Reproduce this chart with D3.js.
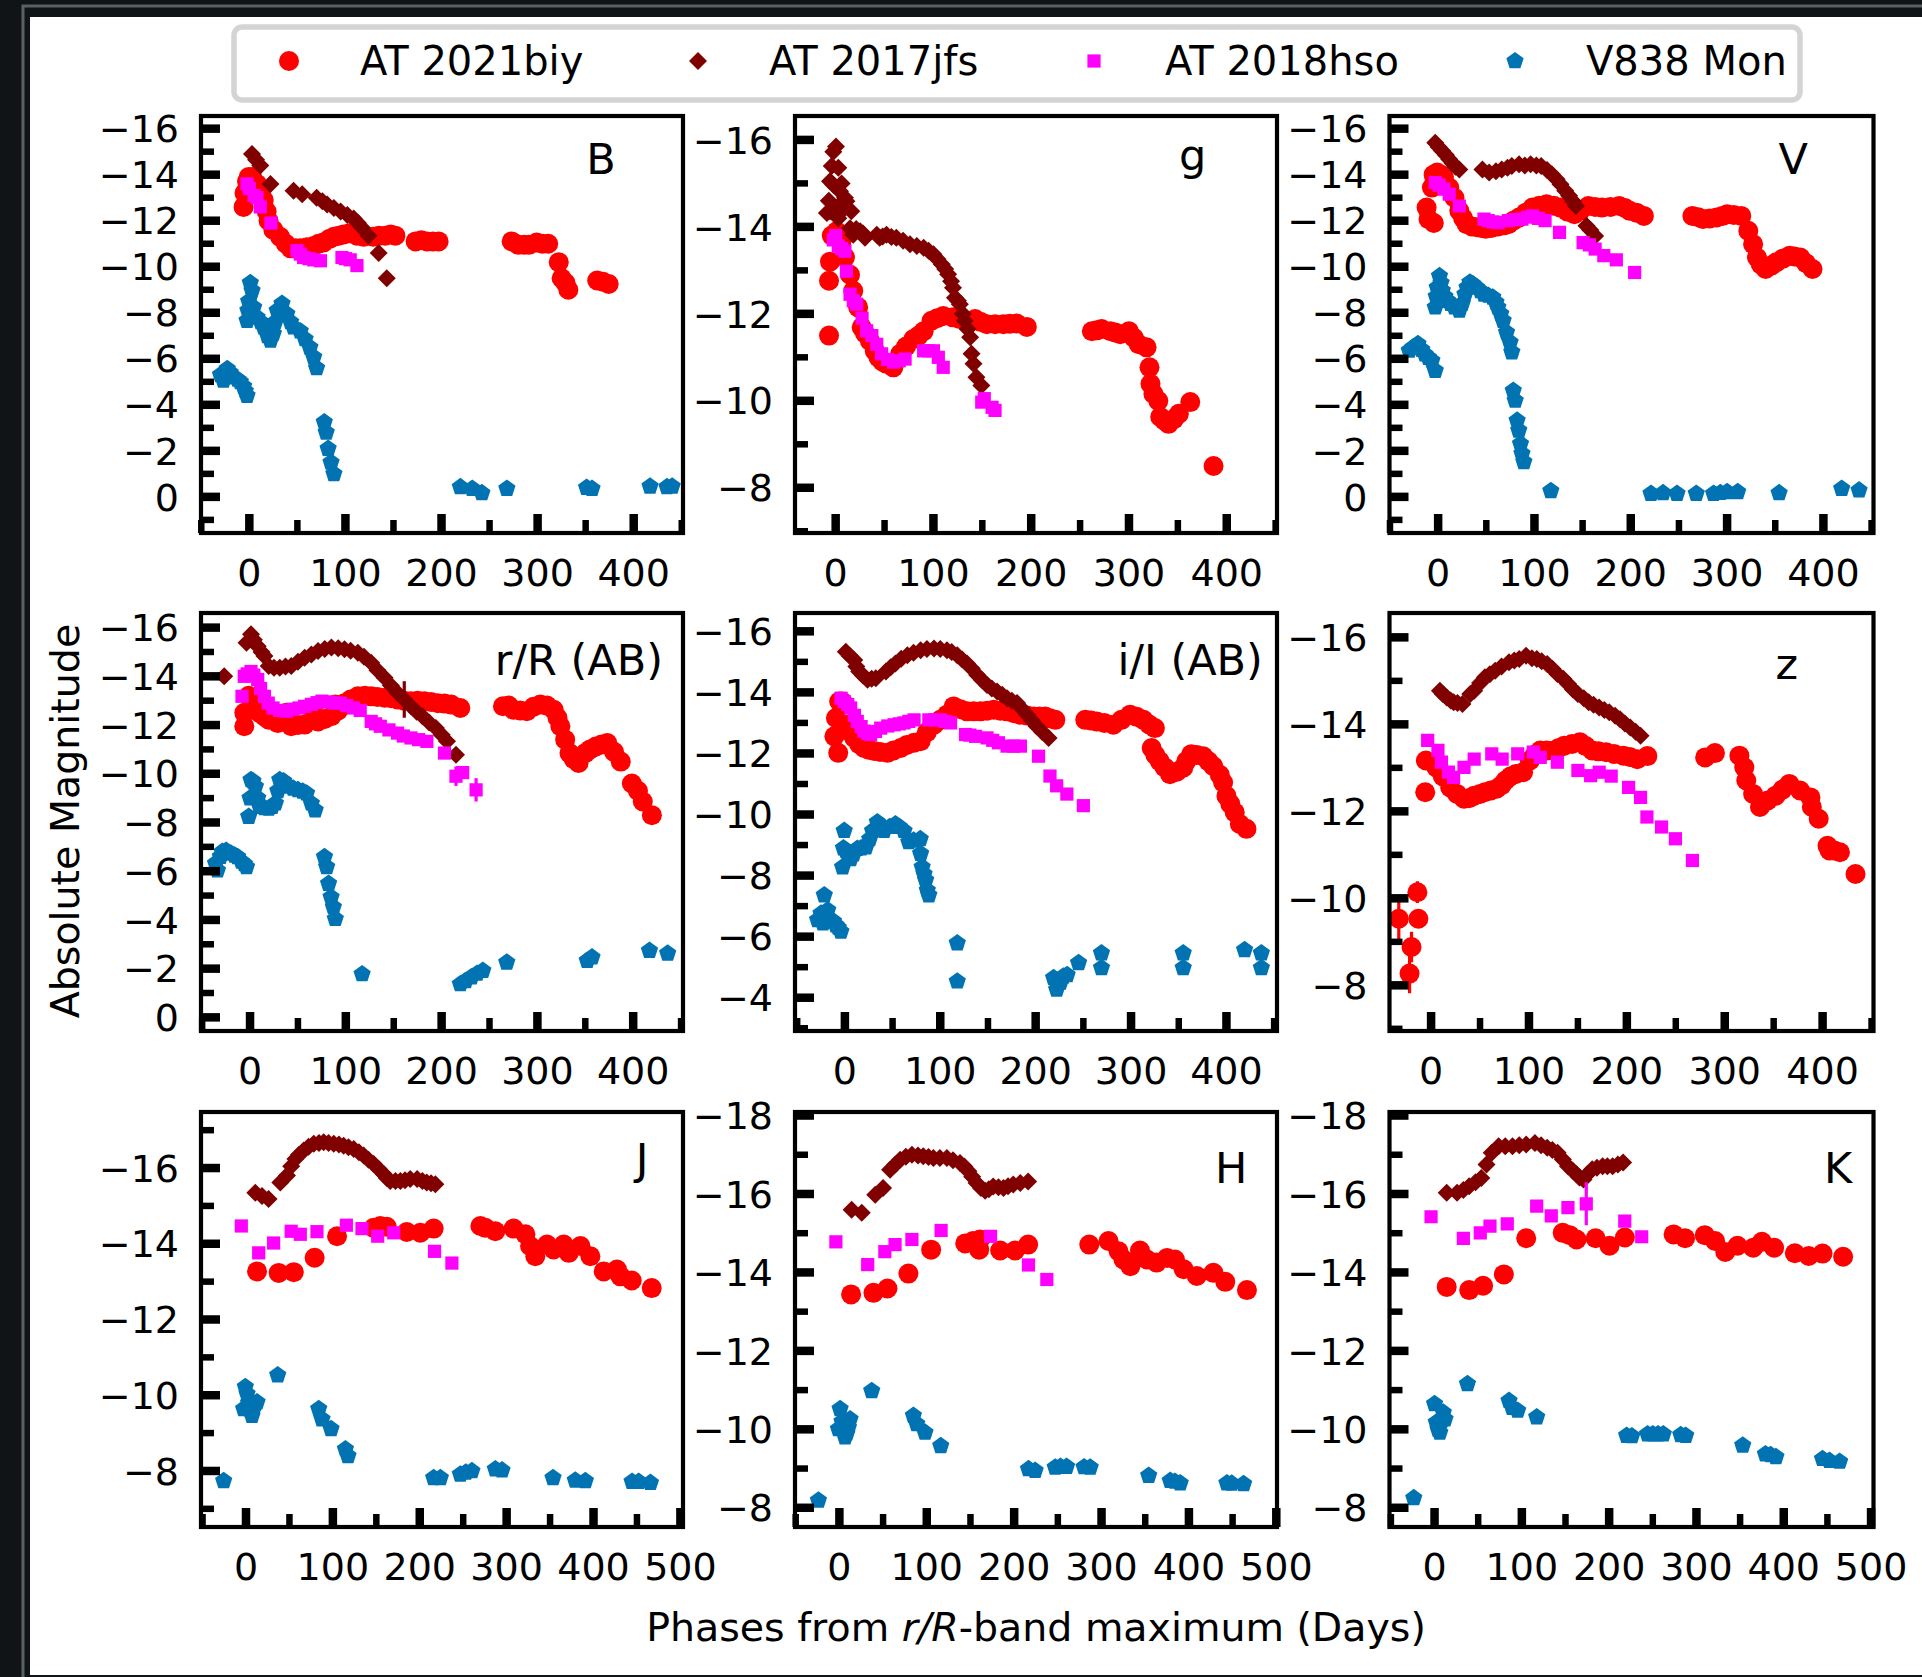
<!DOCTYPE html>
<html>
<head>
<meta charset="utf-8">
<script src="https://cdn.jsdelivr.net/npm/d3@7"></script>
<style>
  html, body { margin: 0; padding: 0; background: #111417; }
  svg { display: block; }
  text { font-family: "DejaVu Sans", "Liberation Sans", sans-serif; fill: #000; }
</style>
</head>
<body>
<svg id="fig" width="1922" height="1677"></svg>
<script>
// ---------------- names ----------------
const objects = ["AT 2021biy", "AT 2017jfs", "AT 2018hso", "V838 Mon"];
const objectColors = ["#ff0000", "#800000", "#ff00ff", "#0173b2"];
const objectShapes = ["circle", "diamond", "square", "pentagon"];
const bands = ["B", "g", "V", "r/R (AB)", "i/I (AB)", "z", "J", "H", "K"];

// ---------------- tick labels ----------------
const xTicksOptical = [0, 100, 200, 300, 400];
const xTicksNIR = [0, 100, 200, 300, 400, 500];
const yTicksB = [-16, -14, -12, -10, -8, -6, -4, -2, 0];
const yTicksG = [-16, -14, -12, -10, -8];
const yTicksV = [-16, -14, -12, -10, -8, -6, -4, -2, 0];
const yTicksR = [-16, -14, -12, -10, -8, -6, -4, -2, 0];
const yTicksI = [-16, -14, -12, -10, -8, -6, -4];
const yTicksZ = [-16, -14, -12, -10, -8];
const yTicksJ = [-16, -14, -12, -10, -8];
const yTicksH = [-18, -16, -14, -12, -10, -8];
const yTicksK = [-18, -16, -14, -12, -10, -8];

// ---------------- light curves: [phase (d), abs mag, (error)] ----------------
// B band
const B_biy = [[-6,-12.6],[-5,-13.2],[-2.4,-13.7],[-0.7,-13.9],[3,-13.9],[8,-13.6],[12,-13.3],[15,-12.9],[18,-12.4],[20,-12.0],[25,-11.6],[32,-11.3],[38,-11.0],[43,-10.8],[48,-10.8],[53,-10.8],[60,-10.85],[67,-10.9],[72,-11.0],[77,-11.05],[83,-11.2],[88,-11.3],[93,-11.35],[98,-11.4],[104,-11.45],[112,-11.35],[119,-11.3],[129,-11.3],[135,-11.35],[141.5,-11.35],[147,-11.4],[152,-11.35],[173,-11.1],[179,-11.15],[185,-11.1],[191,-11.1],[197,-11.1],[273,-11.1],[280,-10.95],[286,-10.95],[291,-10.95],[299,-11.05],[305,-11.0],[311,-11.0],[322,-10.2],[325,-9.5],[329,-9.3],[332,-9.0],[362,-9.4],[368,-9.35],[374,-9.25]];
const B_jfs = [[2.8,-14.9],[7,-14.65],[11.4,-14.4],[22,-13.6],[46,-13.3],[55,-13.15],[70,-13.0],[76,-12.85],[81,-12.7],[88,-12.55],[95,-12.4],[102,-12.25],[108.6,-12.1],[113,-11.9],[117,-11.7],[124,-11.35],[134.6,-10.6],[143,-9.5]];
const B_hso = [[-2.4,-13.6],[0,-13.4],[5,-13.1],[8,-13.0],[11.4,-12.6],[22.5,-11.9],[49.6,-10.7],[53,-10.55],[56.5,-10.4],[62,-10.35],[67,-10.3],[74,-10.26],[96.4,-10.4],[100,-10.35],[105,-10.3],[112,-10.05]];
const B_v838 = [[-30,-5.3],[-27,-5.06],[-23,-5.56],[-20,-5.4],[-16,-5.2],[-12,-5.1],[-9.4,-5.0],[-6,-4.8],[-4.2,-4.6],[-2.4,-4.4],[-2.4,-7.66],[-1.5,-8.1],[-0.7,-8.5],[1,-9.3],[2.8,-8.96],[4.5,-8.24],[8,-7.8],[12,-7.6],[15,-7.37],[19,-7.0],[22,-6.8],[25,-7.1],[27,-7.6],[29,-8.1],[34,-8.4],[39,-7.95],[43,-7.6],[46,-7.37],[53,-7.2],[58,-6.86],[63,-6.5],[67,-6.07],[70,-5.6],[78,-3.25],[80,-2.8],[82,-2.1],[85,-1.5],[88,-1.0],[219.6,-0.43],[232,-0.36],[242,-0.17],[268,-0.36],[351,-0.4],[356.6,-0.36],[417,-0.46],[434.6,-0.43],[440,-0.46]];

// g band
const g_biy = [[-6.8,-11.5],[-6.8,-12.76],[-5.8,-13.2],[-4,-13.8],[1,-13.9],[6,-13.67],[9.5,-13.3],[14.7,-12.9],[18,-12.53],[23,-12.15],[26.6,-11.69],[30,-11.55],[35,-11.38],[40,-11.15],[43.7,-11.0],[48,-10.9],[52,-10.85],[59,-10.77],[66,-11.08],[72,-11.25],[79.5,-11.42],[85,-11.5],[90,-11.6],[98,-11.84],[104,-11.9],[110,-11.95],[120,-11.92],[127,-11.88],[134,-11.84],[142.6,-11.88],[148,-11.82],[154.6,-11.76],[163,-11.76],[171.6,-11.76],[178,-11.77],[185,-11.78],[195.5,-11.7],[262,-11.6],[267,-11.62],[272,-11.65],[281,-11.6],[286,-11.57],[291,-11.53],[300,-11.6],[305,-11.45],[310,-11.3],[318,-11.23],[321,-10.77],[322,-10.39],[325,-10.16],[330,-10.0],[332,-9.63],[336,-9.55],[340.5,-9.47],[346,-9.58],[351,-9.7],[362.7,-9.97],[386.5,-8.5]];
const g_jfs = [[-9,-14.32],[-7,-14.6],[-5.8,-15.05],[-4,-15.4],[-2.4,-15.73],[0.3,-15.85],[2.7,-15.36],[4.4,-14.82],[6,-14.36],[-5.8,-14.36],[-2.4,-14.97],[-0.7,-14.44],[2.7,-14.2],[6,-15.0],[7.8,-14.59],[9.5,-14.67],[11,-14.59],[14.7,-13.97],[16,-14.36],[18,-13.82],[21,-13.95],[25,-13.9],[28,-13.85],[30,-13.75],[42,-13.82],[45,-13.75],[48,-13.78],[52,-13.82],[57,-13.77],[62,-13.75],[69,-13.68],[76,-13.6],[83,-13.56],[90,-13.52],[95,-13.45],[100,-13.37],[104,-13.26],[108.5,-13.14],[112,-13.03],[115,-12.91],[118,-12.75],[120,-12.6],[122,-12.37],[125,-12.3],[127,-12.22],[130,-12.0],[132,-11.84],[135,-11.65],[137.5,-11.46],[139,-11.08],[141,-10.85],[144,-10.54],[149,-10.35]];
const g_hso = [[-2.4,-13.7],[0,-13.8],[2.7,-13.56],[6,-13.5],[9.5,-13.44],[11,-12.98],[14.7,-12.45],[18,-12.3],[21.5,-12.22],[27,-11.9],[31.7,-11.61],[37,-11.5],[42,-11.3],[47,-11.08],[53,-10.95],[59,-10.89],[65,-10.92],[71,-10.96],[90,-11.15],[95,-11.15],[100,-11.15],[105,-11.0],[110,-10.77],[149.4,-9.97],[152,-10.05],[160,-9.85],[163,-9.78]];

// V band
const V_biy = [[-12,-12.57],[-10,-12.07],[-6.5,-13.44],[-4.5,-11.9,0.35],[-4.7,-14.0],[-1,-14.09],[3,-14.0],[6,-13.87],[11.5,-13.44],[17,-13.0],[22,-12.43],[26,-12.1],[29.6,-11.85],[35,-11.75],[40,-11.72],[45,-11.68],[49.4,-11.65],[55,-11.68],[62,-11.75],[68,-11.8],[73,-11.85],[78,-12.0],[84,-12.14],[91,-12.35],[98,-12.57],[105,-12.65],[112.6,-12.72],[120,-12.65],[127,-12.57],[134,-12.4],[141.5,-12.28],[148,-12.45],[156,-12.64],[163,-12.6],[170,-12.57],[179,-12.6],[188,-12.64],[194,-12.55],[199,-12.43],[206,-12.35],[213.6,-12.21],[264,-12.21],[270,-12.15],[275,-12.07],[282,-12.1],[289,-12.14],[295,-12.2],[300,-12.28],[307,-12.25],[314.7,-12.21],[322,-11.56],[327,-10.98],[331,-10.4],[335,-10.1],[340,-9.9],[346,-10.05],[351,-10.19],[358,-10.35],[365,-10.48],[370,-10.45],[376,-10.4],[382,-10.15],[388.7,-9.9]];
const V_jfs = [[-3,-15.39],[0.5,-15.2],[4.3,-15.03],[8,-14.85],[11.5,-14.67],[15,-14.5],[18,-14.35],[22,-14.23],[46,-14.23],[53,-14.09],[60,-14.15],[66,-14.23],[72,-14.3],[76.5,-14.38],[84,-14.45],[90,-14.4],[96,-14.45],[102,-14.4],[107,-14.38],[113,-14.2],[118,-14.02],[123,-13.8],[127,-13.58],[132,-13.3],[136,-13.08],[140,-12.85],[143,-12.64],[154,-11.78],[158,-11.6],[163,-11.34]];
const V_hso = [[-3,-13.66],[1,-13.55],[6,-13.37],[11.5,-13.15],[22,-12.64],[47.6,-12.07],[52,-12.0],[57,-11.95],[62,-11.92],[73,-12.0],[80,-12.05],[87,-12.07],[93,-12.15],[98,-12.21],[104,-12.1],[111,-12.0],[126,-11.49],[150.5,-11.05],[157,-10.95],[163,-10.77],[172,-10.48],[185,-10.3],[204,-9.75]];
const V_v838 = [[-30,-6.36],[-26,-6.5],[-21,-6.65],[-17,-6.4],[-13.7,-6.2],[-10,-6.05],[-6.5,-5.92],[-3,-5.49],[-3,-8.24],[-2,-8.7],[-1,-9.1],[1.4,-9.6],[3,-9.3],[4.3,-8.96],[7,-8.7],[9.7,-8.53],[13,-8.4],[17,-8.24],[22,-8.1],[25,-8.4],[27.8,-8.8],[30,-9.1],[33,-9.32],[36,-9.25],[40,-9.1],[44,-8.95],[47.6,-8.8],[52,-8.75],[56.7,-8.67],[60,-8.45],[62,-8.24],[65,-7.95],[67.5,-7.66],[71,-7.15],[74.7,-6.72],[76.5,-6.29],[78,-4.62],[80,-4.19],[82,-3.32],[83.7,-2.89],[85.5,-2.31],[87,-1.88],[89,-1.52],[117,-0.26],[221,-0.14],[233.5,-0.17],[248,-0.14],[268,-0.14],[286,-0.14],[293,-0.18],[300,-0.22],[311,-0.22],[354,-0.17],[419,-0.36],[437,-0.29]];

// r/R band
const R_biy = [[-6,-11.95],[-6,-12.5],[-1.4,-13.2],[3.3,-12.77],[10,-12.5],[15,-12.35],[19.5,-12.22],[19.5,-12.6],[29,-12.08],[38,-12.5],[43,-11.95],[50,-12.0],[57,-12.02],[66,-12.5],[71,-12.15],[78,-12.25],[85,-12.36],[89,-12.84],[92,-12.6],[98.6,-12.9],[105,-13.05],[112.6,-13.18],[120,-13.2],[126.5,-13.18],[133,-13.15],[140.5,-13.12],[147,-13.1],[154,-13.05],[161,-13.0],[168,-12.98],[175,-13.0],[182,-12.98],[189,-12.95],[196,-12.9],[203,-12.88],[210,-12.84],[219.5,-12.7],[264,-12.77],[270,-12.8],[275,-12.63],[282,-12.6],[289,-12.57],[296,-12.75],[303,-12.84],[310,-12.8],[317,-12.63],[321,-12.3],[324,-11.95],[329,-11.4],[333.5,-10.85],[338,-10.6],[343,-10.44],[350,-10.85],[355,-11.0],[361,-11.12],[367,-11.2],[373,-11.26],[380,-10.9],[387,-10.5],[398.6,-9.6],[405,-9.3],[410,-8.86],[419.5,-8.3]];
const R_jfs = [[-27,-14.0],[-3.7,-15.38],[1,-15.73],[4,-15.5],[8,-15.24],[12,-15.0],[15,-14.83],[19.5,-14.42],[25,-14.35],[31,-14.35],[37,-14.4],[43,-14.42],[50,-14.6],[57,-14.76],[64,-14.9],[71,-15.04],[78,-15.12],[85,-15.18],[92,-15.15],[98.6,-15.11],[105,-15.05],[112.6,-14.97],[119,-14.8],[126.5,-14.56],[133,-14.25],[140.5,-13.94],[147,-13.62],[154,-13.32],[161,-13.05,0.75],[168,-12.77],[174,-12.55],[180,-12.36],[187,-12.1],[194,-11.88],[200,-11.6],[205.6,-11.33],[215,-10.78]];
const R_hso = [[-8.4,-13.18],[-6,-14.0],[-3,-14.1],[1,-14.2],[4,-14.05],[8,-13.87],[11,-13.5],[15,-13.18],[19,-12.9],[24,-12.7],[31,-12.6],[38,-12.57],[45,-12.65],[51,-12.7],[57,-12.77],[64,-12.85],[70,-12.92],[75,-12.98],[82,-12.95],[88,-12.9],[94,-12.9],[101,-12.8],[108,-12.7],[115,-12.6],[126.5,-12.15],[131,-12.05],[136,-11.95],[145,-11.8],[154,-11.67],[160,-11.55],[168,-11.47],[176,-11.4],[184.6,-11.33],[203,-10.85],[215,-9.9,0.4],[222,-10.05],[236,-9.34,0.48]];
const R_v838 = [[-36,-6.32],[-34,-6.04],[-31,-6.6],[-29,-6.8],[-25,-6.85],[-20,-6.73],[-16,-6.65],[-13,-6.59],[-9,-6.4],[-6,-6.3],[-3.7,-6.18],[-1.4,-8.24],[0,-9.0],[1,-9.75],[3,-9.7],[5.6,-9.48],[8,-9.0],[10,-8.65],[15,-8.6],[19.5,-8.58],[23,-8.65],[26.5,-8.79],[29,-9.3],[31,-9.75],[35,-9.7],[40.5,-9.48],[45,-9.4],[50,-9.34],[55,-9.28],[59,-9.2],[64,-8.79],[68,-8.51],[77.7,-6.59],[80,-6.18],[82,-5.49],[84.6,-4.94],[87,-4.53],[89,-4.05],[117,-1.78],[219.5,-1.37],[225,-1.5],[231,-1.65],[237,-1.8],[243,-1.92],[268,-2.26],[352,-2.33],[357,-2.47],[417,-2.74],[436,-2.63]];

// i/I band
const I_biy = [[-11,-12.56],[-9.4,-13.16],[-7,-12.02],[-6,-13.7],[-3,-13.7],[-0.7,-13.6],[2.8,-12.94],[6,-12.7],[9.8,-12.51],[15,-12.3],[20,-12.18],[25,-12.12],[30.7,-12.08],[37,-12.05],[44.6,-12.02],[51,-12.1],[58.5,-12.18],[65,-12.28],[72.5,-12.35],[79.4,-12.4],[86,-12.7],[93.4,-12.94],[100,-13.1],[107,-13.27],[114,-13.54],[121,-13.45],[128,-13.38],[135,-13.38],[142,-13.38],[149,-13.4],[156,-13.43],[163,-13.4],[170,-13.38],[177,-13.32],[184,-13.27],[191,-13.24],[198,-13.21],[204,-13.21],[210,-13.21],[215,-13.15],[220.6,-13.1],[252,-13.1],[258,-13.08],[264,-13.05],[272,-13.0],[281.5,-12.94],[290,-13.1],[299,-13.27],[306,-13.2],[313,-13.1],[319,-12.95],[325,-12.83],[321.6,-12.18],[325.5,-11.95],[330,-11.75],[335,-11.55],[340.8,-11.32],[348,-11.4],[354.7,-11.53],[358,-11.75],[363,-11.97],[369,-11.95],[375.6,-11.91],[381,-11.75],[386,-11.59],[393,-11.3],[396.5,-11.05],[400,-10.61],[404,-10.35],[408.7,-10.07],[414,-9.69],[421,-9.53]];
const I_jfs = [[1,-15.33],[5,-15.2],[9.8,-15.06],[12,-14.85],[15,-14.68],[19,-14.55],[23.7,-14.41],[28,-14.45],[32.4,-14.46],[43,-14.68],[48,-14.82],[53,-14.95],[59,-15.1],[65.5,-15.22],[72,-15.3],[79.4,-15.38],[86,-15.42],[93.4,-15.44],[100,-15.42],[107,-15.38],[112,-15.32],[117.8,-15.22],[123,-15.08],[128,-14.95],[133,-14.78],[138.7,-14.57],[144,-14.4],[149,-14.24],[154,-14.13],[159.6,-14.03],[165,-13.92],[170,-13.81],[175,-13.73],[180.5,-13.65],[186,-13.45],[191,-13.27],[196,-13.08],[201,-12.89],[207,-12.7],[213.6,-12.51]];
const I_hso = [[-4,-13.81],[-0.7,-13.7],[3,-13.6],[6,-13.49],[10,-13.25],[13,-13.05],[17,-12.88],[20,-12.73],[24,-12.65],[27,-12.62],[32,-12.72],[37.6,-12.83],[45,-12.9],[51.6,-12.94],[57,-12.97],[62,-13.0],[67,-13.05],[72.5,-13.1],[88,-13.1],[94,-13.1],[100,-13.1],[105,-13.05],[110.8,-13.0],[126.5,-12.62],[131,-12.6],[137,-12.56],[149,-12.51],[155,-12.43],[161,-12.35],[170,-12.24],[177,-12.24],[184,-12.24],[203,-11.91],[215,-11.26],[222,-10.94],[232.7,-10.67],[250,-10.29]];
const I_v838 = [[-28.6,-6.55],[-25,-6.76],[-23,-6.44],[-21.6,-7.36],[-18,-6.87],[-14.6,-6.55],[-12,-6.5],[-9.4,-6.38],[-7,-6.3],[-4.2,-6.17],[-2.4,-8.28],[-1.5,-8.9],[-0.7,-9.47],[1,-8.82],[3,-8.7],[6,-8.55],[9,-8.7],[13,-8.88],[17,-8.9],[22,-8.93],[26,-9.2],[29,-9.47],[34,-9.75],[37,-9.65],[41,-9.47],[47,-9.6],[53,-9.69],[57,-9.6],[62,-9.47],[67,-9.1],[72,-9.15],[79,-9.2],[79.4,-8.72],[81,-8.28],[83,-8.05],[84.7,-7.85],[86.4,-7.52],[88,-7.36],[117.8,-5.79],[117.8,-4.54],[218.8,-4.65],[222,-4.27],[226,-4.5],[229,-4.7],[233,-4.75],[245,-5.14],[269,-5.46],[269,-4.98],[354.7,-5.46],[354.7,-4.98],[419,-5.57],[436.6,-5.46],[436.6,-4.98]];

// z band
const Z_biy = [[-33,-9.53,0.55],[-22,-8.27,0.45],[-20,-8.88,0.35],[-14,-10.14,0.25],[-13,-9.53],[-6,-12.44],[-5.3,-13.17],[5.3,-13.01],[12,-12.8],[19.5,-12.55],[26.5,-12.4],[33.6,-12.29],[39,-12.3],[44,-12.36],[50,-12.4],[55,-12.44],[61,-12.48],[67,-12.52],[72,-12.6],[76,-12.71],[81,-12.8],[86.7,-12.86],[94,-12.9],[101,-13.17],[106,-13.3],[111.5,-13.4],[118,-13.4],[125.7,-13.4],[130,-13.45],[136,-13.51],[144,-13.55],[152,-13.59],[158,-13.5],[164.6,-13.4],[171,-13.38],[178.8,-13.36],[187,-13.32],[196.5,-13.28],[203,-13.25],[210.6,-13.2],[221,-13.27],[280,-13.24],[290,-13.34],[315,-13.28],[320,-13.01],[322,-12.71],[329,-12.4],[336,-12.1],[344,-12.25],[352,-12.36],[359,-12.5],[366,-12.63],[377,-12.48],[387.6,-12.32],[389,-12.1],[396,-11.83],[405,-11.21],[407,-11.1],[412,-11.1],[417.7,-11.06],[433.6,-10.56]];
const Z_jfs = [[9,-14.77],[12,-14.7],[16,-14.62],[20,-14.55],[23,-14.51],[27,-14.49],[32,-14.47],[40,-14.7],[44,-14.77],[50,-14.95],[55,-15.08],[60,-15.15],[65.5,-15.23],[72,-15.33],[79.6,-15.43],[85,-15.47],[90,-15.5],[97,-15.58],[103,-15.52],[108,-15.5],[113,-15.45],[118.6,-15.39],[124,-15.28],[129,-15.16],[135,-15.05],[140,-14.93],[145,-14.8],[150,-14.7],[156,-14.6],[161,-14.51],[166,-14.45],[171.7,-14.39],[177,-14.33],[182,-14.28],[188,-14.2],[193,-14.12],[198,-14.02],[203.5,-13.93],[209,-13.83],[214,-13.74]];
const Z_hso = [[-3.5,-13.63],[7,-13.4],[10.6,-13.13],[17.7,-12.9],[23,-12.78],[33.6,-13.01],[44,-13.2],[62,-13.32],[72.6,-13.2],[88.5,-13.32],[104.4,-13.36],[111.5,-13.24],[129,-13.13],[150,-12.94],[163,-12.82],[171.7,-12.9],[184,-12.81],[201.8,-12.55],[214,-12.32],[220.5,-11.87],[235.4,-11.64],[249.6,-11.37],[267,-10.87]];

// J band
const J_biy = [[12.7,-13.27],[37.6,-13.23],[55,-13.25],[79,-13.63],[104.8,-14.2],[147,-14.42],[154.6,-14.47],[162,-14.45],[185,-14.31],[200.7,-14.29],[216,-14.4],[269.8,-14.47],[275.5,-14.42],[287,-14.33],[308,-14.4],[321.6,-14.25],[327,-13.94],[333,-13.67],[346.5,-13.98],[354,-13.85],[365.7,-13.98],[371.5,-13.76],[385,-13.94],[396.4,-13.67],[411.7,-13.27],[427,-13.32],[431,-13.14],[444,-13.03],[467,-12.83]];
const J_jfs = [[10.7,-15.35],[18.4,-15.26],[26,-15.18],[39.5,-15.62],[47.2,-15.8],[52,-16.05],[56.8,-16.24],[61,-16.35],[66.4,-16.46],[72,-16.56],[78,-16.64],[84,-16.66],[89.4,-16.68],[95,-16.66],[101,-16.64],[107,-16.62],[112.4,-16.59],[118,-16.55],[124,-16.5],[130,-16.42],[135.5,-16.33],[141,-16.22],[147,-16.11],[153,-15.97],[158.5,-15.84],[162,-15.74],[166,-15.66],[172,-15.66],[177.7,-15.66],[183,-15.68],[189,-15.71],[197,-15.71],[203,-15.66],[208,-15.62],[213,-15.6],[218,-15.57]];
const J_hso = [[-5.4,-14.47],[14.6,-13.76],[31.8,-14.02],[52,-14.33],[62.5,-14.25],[81.7,-14.32],[115.5,-14.49],[133.5,-14.4],[151.6,-14.2],[170,-14.29],[217,-13.8],[237,-13.49]];
const J_v838 = [[-25.7,-7.74],[-2.7,-9.64],[-0.8,-10.22],[1.2,-10.04],[3,-9.8],[5,-9.6],[6.9,-9.46],[8.5,-9.65],[10.7,-9.77],[12.7,-9.82],[36.5,-10.53],[83.7,-9.64],[87.5,-9.37],[97.9,-9.11],[114.4,-8.58],[117.4,-8.4],[216,-7.82],[223.7,-7.82],[246.7,-7.91],[253,-7.96],[260,-8.0],[287,-8.05],[294.7,-8.02],[353.4,-7.82],[379,-7.75],[390.6,-7.74],[444.4,-7.72],[452,-7.72],[465.5,-7.69]];

// H band
const H_biy = [[13.4,-13.44],[39,-13.48],[55,-13.59],[79,-13.97],[105,-14.58],[144,-14.74],[153,-14.8],[160,-14.58],[161,-14.84],[184,-14.56],[201,-14.56],[216,-14.71],[286,-14.71],[308,-14.8],[319.5,-14.54],[325,-14.33],[333,-14.16],[344,-14.56],[352,-14.33],[363,-14.25],[375,-14.37],[384,-14.33],[394,-14.08],[409,-13.91],[428,-13.99],[441.6,-13.76],[466.4,-13.55]];
const H_jfs = [[14,-15.6],[25.6,-15.52],[41,-15.98],[50,-16.15],[58,-16.62],[64,-16.75],[69.5,-16.87],[76,-16.95],[83,-17.0],[90,-16.98],[96,-16.96],[102,-16.94],[107.6,-16.92],[115,-16.92],[123,-16.92],[130,-16.86],[138,-16.79],[143,-16.7],[147.7,-16.58],[152,-16.44],[157,-16.28],[162,-16.15],[166.8,-16.08],[171,-16.12],[176,-16.19],[182,-16.17],[187.8,-16.15],[193,-16.2],[199,-16.24],[207,-16.28],[216,-16.32]];
const H_hso = [[-4,-14.78],[32.4,-14.2],[52,-14.53],[63.7,-14.71],[83,-14.84],[116.4,-15.07],[173,-14.92],[216.4,-14.19],[237.4,-13.82]];
const H_v838 = [[-24,-8.19],[-1.1,-10.01],[0.8,-10.52],[3,-10.2],[6.5,-9.8],[8.5,-9.9],[10.3,-10.05],[12.2,-10.26],[37,-10.98],[84.7,-10.35],[88.5,-10.14],[98,-9.92],[116,-9.58],[216.4,-8.99],[224,-8.95],[247,-9.03],[253,-9.05],[260,-9.05],[280,-9.04],[287,-9.03],[354,-8.82],[378.6,-8.69],[384,-8.67],[390,-8.63],[443.5,-8.63],[449,-8.62],[462.6,-8.61]];

// K band
const K_biy = [[13.9,-13.63],[39.7,-13.55],[55.6,-13.66],[79.4,-13.95],[105,-14.87],[146.8,-15.01],[154.8,-14.95],[162.7,-14.84],[184.5,-14.87],[200.4,-14.68],[218,-14.89],[273.8,-14.97],[287,-14.87],[309.5,-14.95],[321.4,-14.8],[333,-14.52],[347,-14.68],[365,-14.63],[375,-14.78],[389,-14.63],[412.7,-14.49],[428.6,-14.42],[444.4,-14.48],[468,-14.4]];
const K_jfs = [[13.9,-16.03],[25.8,-16.03],[33,-16.1],[39.7,-16.2],[47,-16.3],[53.6,-16.41],[59.5,-16.75],[65.5,-17.05],[73.4,-17.22],[81,-17.22],[89.3,-17.22],[97,-17.24],[105,-17.26],[115,-17.3],[122,-17.24],[129,-17.18],[135,-17.12],[141,-17.05],[147,-16.88],[152.8,-16.71],[158,-16.6],[162.7,-16.5],[166,-16.42],[170.6,-16.37],[175,-16.5],[180.6,-16.63],[186,-16.67],[192.5,-16.71],[198,-16.71],[204,-16.71],[210,-16.75],[216,-16.8]];
const K_hso = [[-4,-15.42],[33,-14.87],[52.4,-15.01],[63.5,-15.18],[83.3,-15.24],[117,-15.69],[133.7,-15.44],[152.8,-15.65],[173.8,-15.75,0.55],[217.9,-15.31],[237.3,-14.91]];
const K_v838 = [[-23.8,-8.25],[0,-10.65],[2,-10.18],[4,-10.0],[6,-9.92],[8,-10.2],[10,-10.43],[12,-10.26],[37.7,-11.16],[85.3,-10.73],[89,-10.55],[95.2,-10.48],[117,-10.31],[220,-9.84],[226,-9.83],[244,-9.88],[250,-9.88],[256,-9.88],[262,-9.88],[282,-9.86],[287.7,-9.84],[353,-9.59],[379,-9.37],[385,-9.35],[391,-9.3],[444.4,-9.25],[452.4,-9.2],[464,-9.18]];

// ---------------- panel layout ----------------
const colX = [[201, 683], [795, 1277], [1389.5, 1873.5]];
const rowY = [[116, 533], [613, 1031], [1112, 1527]];

const panels = [
  { band: bands[0], series: [B_biy, B_jfs, B_hso, B_v838], col: 0, row: 0, xDom: [-50.3, 451.3], yDom: [-16.55, 1.57], xTicks: xTicksOptical, yTicks: yTicksB, lab: [0.830, 0.139] },
  { band: bands[1], series: [g_biy, g_jfs, g_hso, []],     col: 1, row: 0, xDom: [-41.6, 451.4], yDom: [-16.55, -6.96], xTicks: xTicksOptical, yTicks: yTicksG, lab: [0.825, 0.129] },
  { band: bands[2], series: [V_biy, V_jfs, V_hso, V_v838], col: 2, row: 0, xDom: [-50.5, 452],   yDom: [-16.55, 1.57], xTicks: xTicksOptical, yTicks: yTicksV, lab: [0.834, 0.139] },
  { band: bands[3], series: [R_biy, R_jfs, R_hso, R_v838], col: 0, row: 1, xDom: [-51.2, 452],   yDom: [-16.6, 0.56],  xTicks: xTicksOptical, yTicks: yTicksR, lab: [0.784, 0.148] },
  { band: bands[4], series: [I_biy, I_jfs, I_hso, I_v838], col: 1, row: 1, xDom: [-52.3, 453],   yDom: [-16.6, -2.91], xTicks: xTicksOptical, yTicks: yTicksI, lab: [0.820, 0.148] },
  { band: bands[5], series: [Z_biy, Z_jfs, Z_hso, []],     col: 2, row: 1, xDom: [-42.5, 452],   yDom: [-16.56, -6.95], xTicks: xTicksOptical, yTicks: yTicksZ, lab: [0.821, 0.158] },
  { band: bands[6], series: [J_biy, J_jfs, J_hso, J_v838], col: 0, row: 2, xDom: [-51.8, 503],   yDom: [-17.48, -6.52], xTicks: xTicksNIR, yTicks: yTicksJ, lab: [0.915, 0.149] },
  { band: bands[7], series: [H_biy, H_jfs, H_hso, H_v838], col: 1, row: 2, xDom: [-50.8, 500.8], yDom: [-18.09, -7.51], xTicks: xTicksNIR, yTicks: yTicksH, lab: [0.905, 0.171] },
  { band: bands[8], series: [K_biy, K_jfs, K_hso, K_v838], col: 2, row: 2, xDom: [-51.6, 502.8], yDom: [-18.09, -7.51], xTicks: xTicksNIR, yTicks: yTicksK, lab: [0.927, 0.171] }
];

// ---------------- drawing helpers ----------------
const svg = d3.select("#fig");
const FONT_TICK = 38, FONT_TITLE = 39.5, FONT_LEG = 40, FONT_BAND = 43;

function pentagonPath(r) {
  const pts = d3.range(5).map(k => {
    const a = -Math.PI / 2 + k * 2 * Math.PI / 5;
    return [r * Math.cos(a), r * Math.sin(a)];
  });
  return "M" + pts.map(p => p[0].toFixed(2) + "," + p[1].toFixed(2)).join("L") + "Z";
}
const shapePaths = {
  circle: d3.symbol(d3.symbolCircle, Math.PI * 10 * 10)(),
  diamond: "M0,-9L9,0L0,9L-9,0Z",
  square: "M-6.6,-6.6H6.6V6.6H-6.6Z",
  pentagon: pentagonPath(9.1)
};

function minus(v) { return v < 0 ? "\u2212" + Math.abs(v) : String(v); }

// page frame
svg.append("rect").attr("x", 0).attr("y", 0).attr("width", 1922).attr("height", 1677).attr("fill", "#111417");
svg.append("rect").attr("x", 23).attr("y", 6).attr("width", 1920).attr("height", 1700)
  .attr("fill", "none").attr("stroke", "#5b6064").attr("stroke-width", 3);
svg.append("rect").attr("x", 30).attr("y", 17).attr("width", 1892).attr("height", 1658).attr("fill", "#ffffff");

const defs = svg.append("defs");

panels.forEach((p, pi) => {
  const [x0, x1] = colX[p.col];
  const [y0, y1] = rowY[p.row];
  const x = d3.scaleLinear().domain(p.xDom).range([x0, x1]);
  const y = d3.scaleLinear().domain(p.yDom).range([y0, y1]);

  const clipId = "clip" + pi;
  defs.append("clipPath").attr("id", clipId)
    .append("rect").attr("x", x0).attr("y", y0).attr("width", x1 - x0).attr("height", y1 - y0);

  const g = svg.append("g").attr("class", "panel");
  const plot = g.append("g").attr("clip-path", `url(#${clipId})`);

  p.series.forEach((pts, si) => {
    const col = objectColors[si];
    const sg = plot.append("g");
    // error bars
    sg.selectAll("line.err").data(pts.filter(d => d.length > 2)).join("line")
      .attr("class", "err")
      .attr("x1", d => x(d[0])).attr("x2", d => x(d[0]))
      .attr("y1", d => y(d[1] - d[2])).attr("y2", d => y(d[1] + d[2]))
      .attr("stroke", col).attr("stroke-width", 3.2);
    sg.selectAll("path.pt").data(pts).join("path")
      .attr("class", "pt")
      .attr("d", shapePaths[objectShapes[si]])
      .attr("transform", d => `translate(${x(d[0]).toFixed(2)},${y(d[1]).toFixed(2)})`)
      .attr("fill", col);
  });

  // ticks (inward), major labelled every 100 d / 2 mag, minor every 50 d / 1 mag
  const xMajor = p.xTicks;
  const xMinor = d3.range(-50, 551, 100).filter(v => v >= p.xDom[0] && v <= p.xDom[1]);
  const yMajor = p.yTicks;
  const yMinor = d3.range(Math.ceil(p.yDom[0]), Math.floor(p.yDom[1]) + 1)
    .filter(v => yMajor.indexOf(v) < 0);

  const tk = g.append("g").attr("stroke", "#000");
  xMajor.forEach(v => tk.append("line").attr("x1", x(v)).attr("x2", x(v)).attr("y1", y1).attr("y2", y1 - 19).attr("stroke-width", 8.5));
  xMinor.forEach(v => tk.append("line").attr("x1", x(v)).attr("x2", x(v)).attr("y1", y1).attr("y2", y1 - 13).attr("stroke-width", 6.5));
  yMajor.forEach(v => tk.append("line").attr("x1", x0).attr("x2", x0 + 19).attr("y1", y(v)).attr("y2", y(v)).attr("stroke-width", 8.5));
  yMinor.forEach(v => tk.append("line").attr("x1", x0).attr("x2", x0 + 13).attr("y1", y(v)).attr("y2", y(v)).attr("stroke-width", 6.5));

  // frame
  g.append("rect").attr("x", x0).attr("y", y0).attr("width", x1 - x0).attr("height", y1 - y0)
    .attr("fill", "none").attr("stroke", "#000").attr("stroke-width", 4.2);

  // tick labels
  xMajor.forEach(v => g.append("text").attr("x", x(v)).attr("y", y1 + 53)
    .attr("text-anchor", "middle").attr("font-size", FONT_TICK).text(minus(v)));
  yMajor.forEach(v => g.append("text").attr("x", x0 - 22).attr("y", y(v)).attr("dy", "0.36em")
    .attr("text-anchor", "end").attr("font-size", FONT_TICK).text(minus(v)));

  // band name
  g.append("text").attr("x", x0 + p.lab[0] * (x1 - x0)).attr("y", y0 + p.lab[1] * (y1 - y0))
    .attr("text-anchor", "middle").attr("font-size", FONT_BAND).text(p.band);
});

// legend
const leg = svg.append("g");
leg.append("rect").attr("x", 234).attr("y", 27).attr("width", 1566).attr("height", 73).attr("rx", 8)
  .attr("fill", "#fff").attr("stroke", "#d4d4d4").attr("stroke-width", 5.5);
const legX = [289, 698, 1094, 1515];
objects.forEach((name, i) => {
  leg.append("path").attr("d", shapePaths[objectShapes[i]])
    .attr("transform", `translate(${legX[i]},61)`).attr("fill", objectColors[i]);
  leg.append("text").attr("x", legX[i] + 71).attr("y", 61).attr("dy", "0.36em")
    .attr("font-size", FONT_LEG).text(name);
});

// axis titles
svg.append("text").attr("x", 79).attr("y", 821).attr("transform", "rotate(-90,79,821)")
  .attr("text-anchor", "middle").attr("font-size", FONT_TITLE).text("Absolute Magnitude");
const xt = svg.append("text").attr("x", 1036).attr("y", 1641).attr("text-anchor", "middle").attr("font-size", FONT_TITLE);
xt.append("tspan").text("Phases from ");
xt.append("tspan").attr("font-style", "italic").text("r/R");
xt.append("tspan").text("-band maximum (Days)");
</script>
</body>
</html>
